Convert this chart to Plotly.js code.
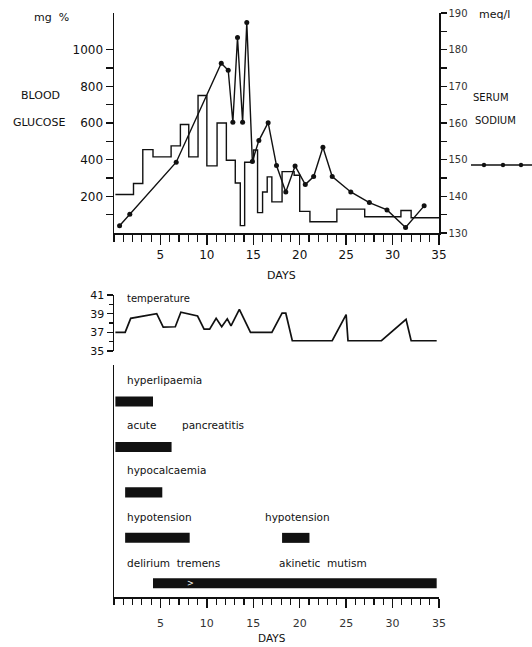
<!DOCTYPE html>
<html>
<head>
<meta charset="utf-8">
<script src="https://cdn.plot.ly/plotly-3.0.1.min.js"></script>
<style>html,body{margin:0;padding:0;background:#fff;}#chart{width:532px;height:647px;}</style>
</head>
<body>
<div id="chart"></div>
<script>
// ---- data ----
var glucoseDays = [0.15, 2.1, 3.1, 4.2, 6.15, 7.15, 8.05, 9.05, 10.0, 11.1, 12.1, 13.06, 13.6, 14.07, 15.03, 15.46, 16.0, 16.5, 17.0, 18.1, 19.4, 20.0, 21.1, 24.0, 27.0, 30.9, 32.0, 35.0];
var glucoseVals = [210, 270, 455, 415, 475, 592, 415, 750, 366, 600, 397, 273, 40, 386, 453, 111, 224, 306, 170, 335, 315, 118, 61, 130, 89, 123, 83, 83];

var sodiumDays = [0.6, 1.7, 6.7, 11.55, 12.3, 12.8, 13.3, 13.85, 14.3, 14.9, 15.6, 16.6, 17.5, 18.5, 19.5, 20.6, 21.5, 22.5, 23.5, 25.5, 27.5, 29.4, 31.4, 33.4];
var sodiumVals = [132.0, 135.1, 149.3, 176.3, 174.4, 160.2, 183.3, 160.2, 187.4, 149.5, 155.2, 160.1, 148.4, 141.2, 148.3, 143.2, 145.4, 153.4, 145.4, 141.2, 138.3, 136.3, 131.5, 137.4];

var tempDays = [0.15, 1.2, 1.8, 4.6, 5.3, 6.6, 7.2, 9.0, 9.7, 10.3, 11.0, 11.6, 12.2, 12.6, 13.5, 14.7, 17.0, 18.1, 18.5, 19.2, 23.5, 25.0, 25.2, 28.8, 31.45, 32.0, 34.75];
var tempVals = [37.0, 37.0, 38.5, 39.0, 37.55, 37.6, 39.15, 38.75, 37.35, 37.35, 38.5, 37.6, 38.45, 37.7, 39.45, 37.0, 37.0, 39.05, 39.05, 36.1, 36.1, 38.9, 36.1, 36.1, 38.4, 36.1, 36.1];

var eventRows  = [4.3, 3.3, 2.3, 1.3, 1.3, 0.3];
var eventStart = [0.15, 0.15, 1.2, 1.2, 18.1, 4.2];
var eventEnd   = [4.2, 6.2, 5.2, 8.15, 21.05, 34.75];

var eventLabels = ["hyperlipaemia", "acute", "pancreatitis", "hypocalcaemia", "hypotension", "hypotension", "delirium  tremens", "akinetic  mutism"];
var labelDays   = [1.2, 1.2, 7.1, 1.2, 1.2, 16.0, 1.2, 17.5];
var labelRows   = [4.77, 3.78, 3.78, 2.79, 1.76, 1.76, 0.74, 0.74];

var dayTicks = [5, 10, 15, 20, 25, 30, 35];
var glucoseTicks = [100, 200, 300, 400, 500, 600, 700, 800, 900, 1000];
var glucoseTickText = ["", "200", "", "400", "", "600", "", "800", "", "1000"];
var sodiumTicks = [130, 135, 140, 145, 150, 155, 160, 165, 170, 175, 180, 185, 190];
var sodiumTickText = ["130", "", "140", "", "150", "", "160", "", "170", "", "180", "", "190"];
var tempTicks = [35, 37, 39, 41];

// ---- helpers ----
var W = 532, H = 647;
function px(x) { return x / W; }
function py(y) { return 1 - y / H; }
var FONT = "DejaVu Sans, Arial, sans-serif";
var INK = "#111";

var durations = eventEnd.map(function (e, i) { return e - eventStart[i]; });

var traces = [
  { x: glucoseDays, y: glucoseVals, xaxis: "x", yaxis: "y", mode: "lines",
    line: { shape: "hv", color: INK, width: 1.4 }, hoverinfo: "skip" },
  { x: sodiumDays, y: sodiumVals, xaxis: "x", yaxis: "y2", mode: "lines+markers",
    line: { color: INK, width: 1.4 }, marker: { color: INK, size: 5 }, hoverinfo: "skip" },
  { x: tempDays, y: tempVals, xaxis: "x2", yaxis: "y3", mode: "lines",
    line: { color: INK, width: 1.7 }, hoverinfo: "skip" },
  { type: "bar", orientation: "h", y: eventRows, x: durations, base: eventStart,
    xaxis: "x3", yaxis: "y4", width: 0.22, marker: { color: INK, line: { width: 0 } }, hoverinfo: "skip" }
];

var xd = [px(114), px(439)];
var axisCommon = { showgrid: false, zeroline: false, linecolor: INK, tickcolor: INK, fixedrange: true };

var annotations = [];
function addText(t, x, y, size, anchor, xref, yref, color) {
  annotations.push({ text: t, x: x, y: y, xref: xref || "paper", yref: yref || "paper",
    xanchor: anchor || "center", yanchor: "middle", showarrow: false,
    font: { family: FONT, size: size, color: color || INK } });
}
addText("mg  %", px(51), py(18), 11);
addText("BLOOD", px(40), py(96), 11);
addText("GLUCOSE", px(39), py(123), 11);
addText("meq/l", px(494), py(15), 11);
addText("SERUM", px(491), py(97), 10);
addText("SODIUM", px(495), py(120), 10);
addText("DAYS", px(281), py(275), 11);
addText("DAYS", px(272), py(638), 10.5);
addText("temperature", px(125), py(298), 10, "left");
for (var i = 0; i < eventLabels.length; i++) {
  addText(eventLabels[i], labelDays[i], labelRows[i], 10.5, "left", "x3", "y4");
}
addText(">", 8.2, 0.3, 8, "center", "x3", "y4", "#fff");

var shapes = [
  { type: "line", xref: "paper", yref: "paper", x0: px(471), x1: px(532), y0: py(165), y1: py(165),
    line: { color: INK, width: 1.4 } }
];
[484, 503, 521].forEach(function (cx) {
  shapes.push({ type: "circle", xref: "paper", yref: "paper", fillcolor: INK, line: { color: INK, width: 0 },
    x0: px(cx - 2.2), x1: px(cx + 2.2), y0: py(165 + 2.2), y1: py(165 - 2.2) });
});

var layout = {
  width: W, height: H, margin: { l: 0, r: 0, t: 0, b: 0 },
  paper_bgcolor: "#fff", plot_bgcolor: "rgba(0,0,0,0)", showlegend: false,
  font: { family: FONT, color: INK },
  xaxis: Object.assign({}, axisCommon, { domain: xd, range: [0, 35], anchor: "y",
    showline: true, linewidth: 1.5, ticks: "outside", tickmode: "array", tickvals: dayTicks,
    ticklen: 10, tickwidth: 1.3, tickfont: { size: 12, color: INK },
    minor: { tickmode: "linear", tick0: 0, dtick: 1, ticks: "outside", ticklen: 7, tickwidth: 1.2, tickcolor: INK } }),
  yaxis: Object.assign({}, axisCommon, { domain: [py(233), py(13)], range: [0, 1200], anchor: "x",
    showline: true, linewidth: 1.5, ticks: "outside", tickmode: "array", tickvals: glucoseTicks,
    ticktext: glucoseTickText, ticklen: 7, tickwidth: 1.3, tickfont: { size: 12, color: INK } }),
  yaxis2: Object.assign({}, axisCommon, { overlaying: "y", side: "right", anchor: "x", range: [130, 190],
    showline: true, linewidth: 1.5, ticks: "outside", tickmode: "array", tickvals: sodiumTicks,
    ticktext: sodiumTickText, ticklen: 6, tickwidth: 1.2, tickfont: { size: 10, color: "#333" } }),
  xaxis2: Object.assign({}, axisCommon, { domain: xd, range: [0, 35], anchor: "y3", visible: false }),
  yaxis3: Object.assign({}, axisCommon, { domain: [py(351), py(295)], range: [35, 41], anchor: "x2",
    showline: true, linewidth: 1.5, ticks: "outside", tickmode: "array", tickvals: tempTicks,
    ticklen: 6, tickwidth: 1.3, tickfont: { size: 11, color: INK },
    minor: { tickmode: "linear", tick0: 35, dtick: 1, ticks: "outside", ticklen: 4, tickwidth: 1.1, tickcolor: INK } }),
  xaxis3: Object.assign({}, axisCommon, { domain: xd, range: [0, 35], anchor: "y4",
    showline: true, linewidth: 1.5, ticks: "outside", tickmode: "array", tickvals: dayTicks,
    ticklen: 9, tickwidth: 1.3, tickfont: { size: 11, color: "#333" }, ticklabelstandoff: 6,
    minor: { tickmode: "linear", tick0: 0, dtick: 1, ticks: "outside", ticklen: 6, tickwidth: 1.2, tickcolor: INK } }),
  yaxis4: Object.assign({}, axisCommon, { domain: [py(597), py(365)], range: [0, 5.1], anchor: "x3",
    showline: true, linewidth: 1.5, ticks: "", showticklabels: false }),
  annotations: annotations,
  shapes: shapes
};

Plotly.newPlot("chart", traces, layout, { staticPlot: true, displayModeBar: false });
</script>
</body>
</html>
